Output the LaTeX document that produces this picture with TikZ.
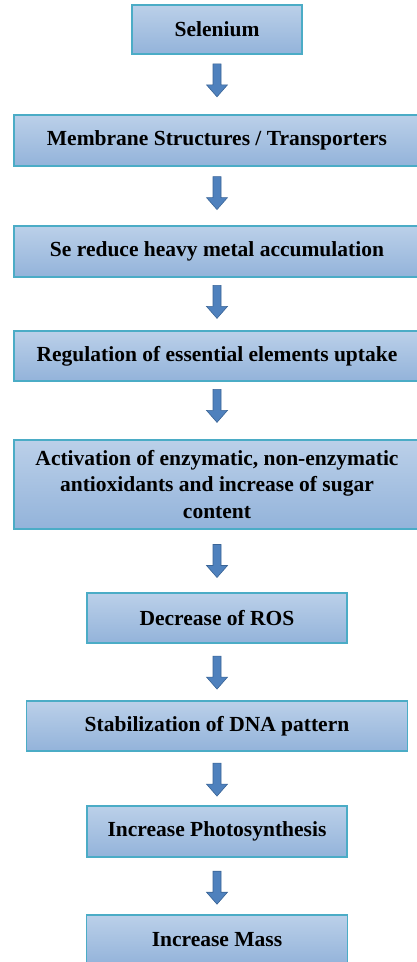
\documentclass[tikz,border=0pt]{standalone}
\usepackage{fontspec}
\setmainfont{Liberation Serif}
\usetikzlibrary{calc}
\definecolor{boxtop}{HTML}{BBD0E9}
\definecolor{boxbot}{HTML}{93B3DA}
\definecolor{boxline}{HTML}{4BACC6}
\definecolor{pilfill}{HTML}{4F81BD}
\definecolor{pilline}{HTML}{3A6496}
\tikzset{
    % Define style for boxes
    boks/.style={
           rectangle,
           draw=boxline, line width=1.1pt,
           top color=boxtop, bottom color=boxbot,
           font=\fontsize{21.5pt}{26.5pt}\selectfont\bfseries,
           align=center,
           inner sep=0pt},
    % Define block arrow style
    blockpil/.style={
           draw=pilline,
           line width=0.6pt,
           fill=pilfill}
}
% box: name, y of centre, width, height, text
\newcommand*{\fnode}[5]{\node[boks, minimum width=#3, minimum height=#4] (#1) at (217pt,#2) {#5};}
% block arrow between two boxes, placed at pos #1 of the gap
\newcommand*{\pil}[3][0.5]{%
  \path (#2.south) -- coordinate[pos=#1] (#2#3) (#3.north);
  \draw[blockpil] ($(#2#3)+(-4pt,16.5pt)$) -- ++(8pt,0) -- ++(0,-21pt) -- ++(6.5pt,0)
     -- ($(#2#3)+(0,-16.5pt)$) -- ++(-10.5pt,12pt) -- ++(6.5pt,0) -- cycle;}

\begin{document}
\begin{tikzpicture}
\useasboundingbox (0,0) rectangle (417pt,-962pt);

% The boxes, top to bottom
\fnode{sel}{-29.5pt}{170pt}{49pt}{Selenium}
\fnode{mem}{-140.5pt}{406pt}{51pt}{Membrane Structures / Transporters}
\fnode{red}{-251.5pt}{406pt}{51pt}{Se reduce heavy metal accumulation}
\fnode{reg}{-356pt}{406pt}{50pt}{Regulation of essential elements uptake}
\fnode{act}{-484.5pt}{406pt}{89pt}{Activation of enzymatic, non-enzymatic\\antioxidants and increase of sugar\\content}
\fnode{ros}{-618pt}{260pt}{50pt}{Decrease of ROS}
\fnode{dna}{-726pt}{381pt}{50pt}{Stabilization of DNA pattern}
\fnode{pho}{-831.5pt}{260pt}{51pt}{Increase Photosynthesis}
\fnode{mas}{-940pt}{261pt}{50pt}{Increase Mass}

% Now connect the boxes with block arrows
\pil[0.43]{sel}{mem}
\pil[0.45]{mem}{red}
\pil[0.46]{red}{reg}
\pil[0.42]{reg}{act}
\pil[0.5]{act}{ros}
\pil[0.51]{ros}{dna}
\pil[0.52]{dna}{pho}
\pil[0.53]{pho}{mas}
\end{tikzpicture}
\end{document}
